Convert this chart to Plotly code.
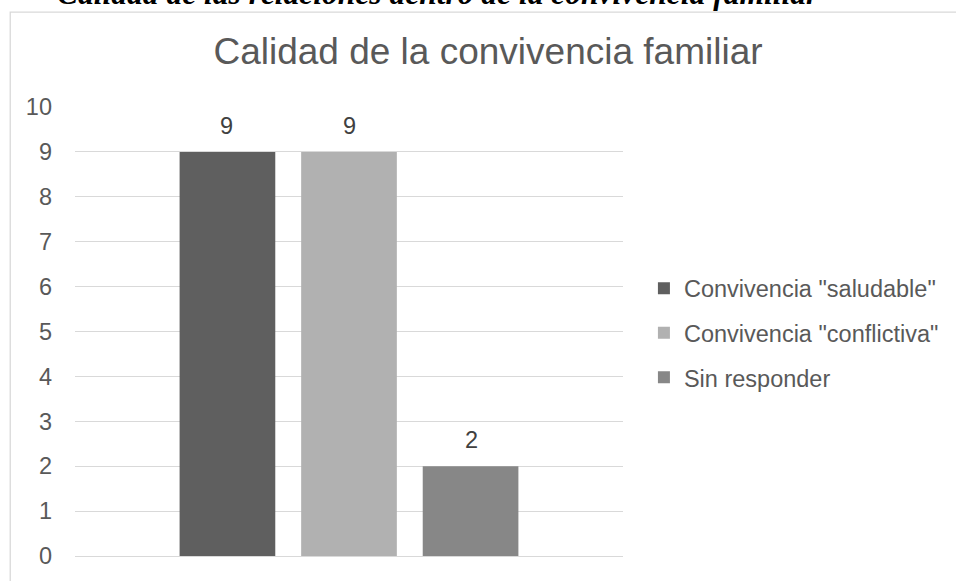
import plotly.graph_objects as go

# Survey result: quality of family coexistence
series_names = ['Convivencia "saludable"', 'Convivencia "conflictiva"', "Sin responder"]
series_values = [9, 9, 2]
series_colors = ["#5f5f5f", "#b1b1b1", "#878787"]
category = [""]
y_ticks = list(range(0, 11))

W, H = 956, 581
M_L, M_R, M_T, M_B = 75, 331, 107, 23
plot_w = W - M_L - M_R
plot_h = H - M_T - M_B

SANS = "Arial, Liberation Sans, sans-serif"
GREY_TXT = "#595959"
GRID = "#d9d9d9"


def px_x(p):
    return (p - M_L) / plot_w


def px_y(p):
    return (H - M_B - p) / plot_h


fig = go.Figure()
for i, (name, val, col) in enumerate(zip(series_names, series_values, series_colors)):
    fig.add_trace(go.Bar(
        x=category, y=[val], name=name, legendgroup=f"g{i}",
        marker=dict(color=col, line=dict(width=0)),
        hoverinfo="skip",
    ))

# value labels above each bar of the group
slot = plot_w * (1 - 0.3345) / len(series_values)
for i, val in enumerate(series_values):
    fig.add_annotation(
        x=0, y=val, xref="x", yref="y",
        text=str(val), showarrow=False,
        xshift=(i - (len(series_values) - 1) / 2) * slot,
        yanchor="bottom", yshift=11,
        font=dict(family=SANS, size=23.5, color="#404040"),
    )

# caption of the document, partly running off the top edge
fig.add_annotation(
    x=px_x(55), y=px_y(13), xref="paper", yref="paper",
    xanchor="left", yanchor="bottom", showarrow=False,
    text="<b><i>Calidad de las relaciones dentro de la convivencia familiar</i></b>",
    font=dict(family="Times New Roman, Liberation Serif, serif", size=31.5, color="#000000"),
)

# chart-area frame
fig.add_shape(
    type="rect", xref="paper", yref="paper",
    x0=px_x(10), x1=px_x(1100), y0=px_y(700), y1=px_y(11.7),
    line=dict(color=GRID, width=1.3), fillcolor="rgba(0,0,0,0)", layer="below",
)

fig.update_layout(
    width=W, height=H,
    margin=dict(l=M_L, r=M_R, t=M_T, b=M_B, pad=0),
    paper_bgcolor="white", plot_bgcolor="white",
    barmode="group", bargap=0.3345, bargroupgap=0.213,
    title=dict(
        text="Calidad de la convivencia familiar",
        x=488 / W, xanchor="center", xref="container",
        y=1 - 51 / H, yanchor="middle", yref="container",
        font=dict(family=SANS, size=37, color=GREY_TXT),
    ),
    showlegend=True,
    legend=dict(
        x=px_x(646), xanchor="left",
        y=px_y(334), yanchor="middle",
        font=dict(family=SANS, size=23.5, color=GREY_TXT),
        bgcolor="rgba(0,0,0,0)", borderwidth=0,
        itemclick=False, itemdoubleclick=False,
        traceorder="grouped", tracegroupgap=11,
    ),
    xaxis=dict(
        showticklabels=False, showgrid=False, zeroline=False,
        showline=False, ticks="", fixedrange=True,
    ),
    yaxis=dict(
        range=[0, 10], tickvals=y_ticks,
        ticktext=[str(t) for t in y_ticks],
        showgrid=True, gridcolor=GRID, gridwidth=1.3,
        zeroline=True, zerolinecolor=GRID, zerolinewidth=1.3,
        showline=False, ticks="", ticklabelstandoff=22,
        tickfont=dict(family=SANS, size=23.5, color=GREY_TXT),
        fixedrange=True,
    ),
)

fig.write_html("out.html", config={"displayModeBar": False})
